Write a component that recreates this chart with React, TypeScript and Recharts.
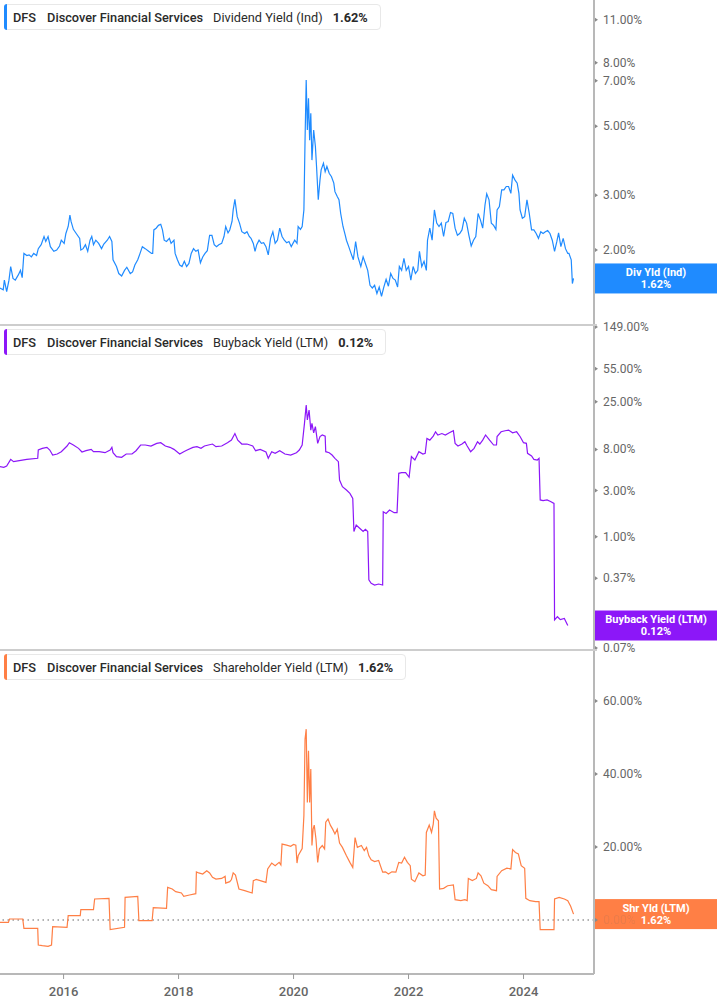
import React from "react";
import { LineChart, Line, XAxis, YAxis, ReferenceLine } from "recharts";

// [year, yield %]
const dividendYield: [number, number][] = [
  [2014.89, 1.51], [2014.95, 1.49], [2014.97, 1.6], [2015.01, 1.47], [2015.05, 1.6], [2015.08, 1.77],
  [2015.12, 1.62], [2015.16, 1.6], [2015.21, 1.66], [2015.25, 1.72], [2015.28, 1.63], [2015.31, 1.95],
  [2015.36, 1.92], [2015.4, 1.93], [2015.44, 1.9], [2015.48, 1.95], [2015.53, 1.92], [2015.56, 2.02],
  [2015.61, 2.08], [2015.66, 2.21], [2015.69, 2.13], [2015.73, 2.21], [2015.77, 2.05], [2015.83, 1.98],
  [2015.88, 2.0], [2015.93, 2.06], [2015.96, 2.15], [2016.01, 2.1], [2016.04, 2.26], [2016.08, 2.38],
  [2016.11, 2.59], [2016.13, 2.47], [2016.17, 2.33], [2016.22, 2.26], [2016.28, 2.18], [2016.3, 2.0],
  [2016.34, 2.02], [2016.38, 2.08], [2016.42, 1.98], [2016.46, 2.15], [2016.49, 2.21], [2016.52, 2.08],
  [2016.56, 2.15], [2016.61, 2.1], [2016.66, 2.02], [2016.7, 2.09], [2016.76, 2.15], [2016.8, 2.21],
  [2016.84, 2.13], [2016.86, 1.86], [2016.92, 1.77], [2016.96, 1.68], [2017.01, 1.65], [2017.06, 1.72],
  [2017.1, 1.76], [2017.16, 1.68], [2017.2, 1.7], [2017.24, 1.79], [2017.29, 1.86], [2017.33, 1.95],
  [2017.37, 2.05], [2017.42, 2.02], [2017.48, 1.98], [2017.53, 1.95], [2017.55, 1.95], [2017.57, 2.32],
  [2017.61, 2.35], [2017.65, 2.4], [2017.69, 2.42], [2017.72, 2.32], [2017.75, 2.15], [2017.79, 2.13],
  [2017.84, 2.18], [2017.87, 2.1], [2017.92, 2.15], [2017.94, 1.95], [2017.98, 1.86], [2018.02, 1.79],
  [2018.06, 1.77], [2018.1, 1.84], [2018.14, 1.77], [2018.18, 1.81], [2018.22, 1.95], [2018.26, 2.02],
  [2018.3, 1.98], [2018.34, 2.0], [2018.38, 1.82], [2018.42, 1.9], [2018.46, 1.95], [2018.5, 1.99],
  [2018.54, 2.23], [2018.58, 2.23], [2018.62, 2.08], [2018.66, 2.05], [2018.7, 2.08], [2018.75, 2.1],
  [2018.79, 2.21], [2018.82, 2.38], [2018.86, 2.27], [2018.89, 2.32], [2018.93, 2.47], [2018.95, 2.69],
  [2018.98, 2.91], [2019.02, 2.56], [2019.06, 2.44], [2019.1, 2.29], [2019.15, 2.26], [2019.19, 2.29],
  [2019.23, 2.21], [2019.26, 2.18], [2019.3, 2.1], [2019.33, 1.98], [2019.36, 2.08], [2019.4, 2.15],
  [2019.44, 2.1], [2019.48, 2.11], [2019.52, 2.05], [2019.56, 1.93], [2019.6, 2.18], [2019.64, 2.29],
  [2019.68, 2.1], [2019.72, 2.15], [2019.76, 2.35], [2019.8, 2.21], [2019.84, 2.15], [2019.88, 2.11],
  [2019.92, 2.13], [2019.96, 2.05], [2020.02, 2.15], [2020.06, 2.1], [2020.08, 2.38], [2020.12, 2.33],
  [2020.15, 2.38], [2020.18, 2.69], [2020.2, 4.51], [2020.22, 7.04], [2020.24, 4.86], [2020.26, 6.15],
  [2020.28, 4.51], [2020.3, 5.5], [2020.32, 3.89], [2020.35, 4.86], [2020.38, 4.3], [2020.4, 3.71],
  [2020.43, 2.9], [2020.46, 3.36], [2020.48, 3.62], [2020.52, 3.8], [2020.55, 3.57], [2020.58, 3.71],
  [2020.62, 3.53], [2020.66, 3.44], [2020.7, 3.28], [2020.72, 3.08], [2020.76, 2.97], [2020.79, 2.9],
  [2020.82, 2.62], [2020.86, 2.38], [2020.9, 2.23], [2020.92, 2.15], [2020.96, 2.05], [2021.0, 1.95],
  [2021.04, 1.86], [2021.08, 2.13], [2021.12, 1.9], [2021.17, 1.77], [2021.21, 1.9], [2021.25, 1.81],
  [2021.29, 1.72], [2021.33, 1.54], [2021.37, 1.51], [2021.41, 1.54], [2021.45, 1.45], [2021.49, 1.52],
  [2021.53, 1.42], [2021.57, 1.52], [2021.61, 1.61], [2021.65, 1.53], [2021.69, 1.68], [2021.73, 1.62],
  [2021.77, 1.6], [2021.81, 1.52], [2021.84, 1.77], [2021.88, 1.72], [2021.92, 1.88], [2021.96, 1.72],
  [2022.0, 1.77], [2022.04, 1.6], [2022.08, 1.77], [2022.12, 1.68], [2022.16, 1.72], [2022.19, 1.98],
  [2022.23, 1.77], [2022.27, 1.84], [2022.31, 1.72], [2022.33, 2.15], [2022.37, 2.35], [2022.41, 2.15],
  [2022.45, 2.69], [2022.49, 2.44], [2022.53, 2.38], [2022.57, 2.44], [2022.61, 2.21], [2022.65, 2.45],
  [2022.69, 2.47], [2022.73, 2.64], [2022.77, 2.62], [2022.81, 2.35], [2022.85, 2.23], [2022.89, 2.26],
  [2022.93, 2.32], [2022.97, 2.53], [2023.01, 2.44], [2023.05, 2.23], [2023.09, 2.06], [2023.13, 2.15],
  [2023.17, 2.21], [2023.21, 2.62], [2023.25, 2.5], [2023.29, 2.35], [2023.33, 2.79], [2023.36, 3.03],
  [2023.4, 2.9], [2023.44, 2.44], [2023.48, 2.4], [2023.52, 2.33], [2023.54, 2.69], [2023.58, 2.76],
  [2023.62, 3.12], [2023.66, 3.12], [2023.7, 3.2], [2023.74, 3.2], [2023.78, 3.04], [2023.81, 3.48],
  [2023.85, 3.36], [2023.89, 3.28], [2023.92, 3.04], [2023.94, 2.69], [2023.98, 2.53], [2024.02, 2.56],
  [2024.06, 2.9], [2024.1, 2.62], [2024.14, 2.32], [2024.18, 2.32], [2024.22, 2.26], [2024.26, 2.18],
  [2024.3, 2.29], [2024.34, 2.26], [2024.38, 2.29], [2024.42, 2.31], [2024.46, 2.26], [2024.5, 2.15],
  [2024.54, 1.98], [2024.58, 2.13], [2024.61, 2.27], [2024.65, 2.05], [2024.69, 2.18], [2024.73, 2.02],
  [2024.77, 1.95], [2024.79, 1.95], [2024.83, 1.86], [2024.85, 1.56], [2024.87, 1.62],
];

const buybackYield: [number, number][] = [
  [2014.89, 5.31], [2014.96, 5.22], [2015.01, 5.39], [2015.08, 6.32], [2015.13, 5.98], [2015.23, 6.12],
  [2015.36, 6.32], [2015.55, 6.48], [2015.56, 7.9], [2015.63, 8.22], [2015.71, 8.42], [2015.76, 7.9],
  [2015.81, 7.01], [2015.89, 7.18], [2015.96, 7.59], [2016.06, 8.69], [2016.1, 9.41], [2016.17, 8.9],
  [2016.26, 8.22], [2016.32, 7.53], [2016.39, 7.77], [2016.48, 8.02], [2016.52, 7.59], [2016.62, 7.59],
  [2016.72, 7.41], [2016.81, 7.9], [2016.84, 8.42], [2016.86, 7.41], [2016.92, 6.74], [2017.01, 6.63],
  [2017.09, 7.18], [2017.19, 7.18], [2017.26, 7.77], [2017.34, 8.9], [2017.42, 8.9], [2017.52, 8.69],
  [2017.62, 9.26], [2017.69, 9.41], [2017.77, 8.69], [2017.85, 8.42], [2017.92, 8.02], [2018.02, 7.18],
  [2018.09, 7.59], [2018.15, 7.9], [2018.25, 8.42], [2018.32, 8.55], [2018.39, 8.22], [2018.45, 8.69],
  [2018.52, 8.9], [2018.59, 9.11], [2018.65, 8.55], [2018.75, 8.69], [2018.85, 9.41], [2018.92, 10.0],
  [2018.98, 11.7], [2019.03, 10.0], [2019.1, 9.11], [2019.19, 9.11], [2019.29, 8.69], [2019.34, 7.77],
  [2019.42, 8.02], [2019.52, 7.53], [2019.56, 6.48], [2019.62, 7.59], [2019.68, 7.29], [2019.76, 7.77],
  [2019.85, 7.18], [2019.95, 7.01], [2020.05, 7.41], [2020.1, 7.9], [2020.15, 8.9], [2020.19, 14.9],
  [2020.22, 23.1], [2020.24, 16.2], [2020.27, 20.5], [2020.3, 12.7], [2020.32, 14.9], [2020.35, 11.9],
  [2020.38, 13.8], [2020.42, 9.26], [2020.46, 10.9], [2020.5, 11.3], [2020.55, 11.0], [2020.56, 7.59],
  [2020.62, 7.41], [2020.67, 7.01], [2020.72, 6.48], [2020.78, 5.98], [2020.8, 3.86], [2020.85, 3.29],
  [2020.92, 3.04], [2020.98, 2.81], [2021.03, 2.49], [2021.05, 1.13], [2021.09, 1.32], [2021.15, 1.22],
  [2021.21, 1.13], [2021.25, 1.19], [2021.29, 1.13], [2021.31, 0.356], [2021.35, 0.328], [2021.41, 0.315],
  [2021.48, 0.323], [2021.55, 0.315], [2021.56, 1.81], [2021.61, 1.74], [2021.67, 1.89], [2021.75, 1.77],
  [2021.8, 1.77], [2021.83, 4.53], [2021.88, 4.6], [2021.95, 4.6], [2022.01, 4.12], [2022.05, 6.74],
  [2022.11, 6.22], [2022.18, 7.59], [2022.25, 7.18], [2022.29, 7.29], [2022.32, 10.4], [2022.37, 10.0],
  [2022.43, 11.0], [2022.47, 12.2], [2022.51, 11.3], [2022.58, 11.7], [2022.64, 11.3], [2022.71, 11.9],
  [2022.78, 12.5], [2022.81, 9.26], [2022.86, 8.69], [2022.93, 9.11], [2022.98, 9.63], [2023.02, 8.69],
  [2023.08, 7.59], [2023.14, 8.22], [2023.2, 9.63], [2023.24, 9.11], [2023.29, 10.0], [2023.34, 11.3],
  [2023.41, 10.0], [2023.48, 8.9], [2023.53, 8.9], [2023.54, 10.9], [2023.61, 12.2], [2023.68, 12.5],
  [2023.74, 12.7], [2023.81, 11.9], [2023.88, 12.2], [2023.94, 10.9], [2024.0, 9.41], [2024.05, 9.26],
  [2024.07, 7.29], [2024.14, 6.85], [2024.18, 6.32], [2024.24, 6.22], [2024.27, 6.48], [2024.29, 2.4],
  [2024.34, 2.36], [2024.41, 2.4], [2024.47, 2.31], [2024.53, 2.21], [2024.54, 0.137], [2024.59, 0.148],
  [2024.64, 0.138], [2024.71, 0.142], [2024.77, 0.12],
];

const shareholderYield: [number, number][] = [
  [2014.89, -0.64], [2015.04, -0.64], [2015.06, 0.27], [2015.29, 0.27], [2015.31, -2.28], [2015.55, -2.28],
  [2015.56, -6.85], [2015.63, -7.03], [2015.73, -7.21], [2015.79, -6.85], [2015.81, -1.82], [2016.06, -2.01],
  [2016.08, 1.19], [2016.29, 1.19], [2016.3, 2.83], [2016.52, 2.83], [2016.54, 5.75], [2016.79, 5.94],
  [2016.81, -2.65], [2017.06, -2.01], [2017.07, 6.21], [2017.29, 6.49], [2017.31, -0.18], [2017.54, -0.18],
  [2017.56, 3.38], [2017.79, 3.2], [2017.81, 8.95], [2017.89, 8.5], [2017.95, 7.76], [2018.05, 7.4],
  [2018.09, 6.49], [2018.19, 6.85], [2018.3, 7.22], [2018.31, 13.2], [2018.35, 12.9], [2018.42, 12.6],
  [2018.49, 13.5], [2018.54, 12.9], [2018.59, 11.7], [2018.65, 11.2], [2018.75, 11.4], [2018.81, 12.0],
  [2018.82, 10.1], [2018.89, 10.5], [2018.92, 11.1], [2018.95, 12.9], [2018.99, 12.3], [2019.05, 8.5],
  [2019.15, 8.04], [2019.28, 7.4], [2019.3, 10.8], [2019.35, 11.1], [2019.42, 10.8], [2019.52, 10.3],
  [2019.55, 14.0], [2019.62, 15.6], [2019.68, 14.9], [2019.75, 15.8], [2019.78, 15.1], [2019.8, 20.8],
  [2019.88, 20.5], [2019.95, 20.2], [2020.0, 20.7], [2020.04, 20.5], [2020.06, 15.6], [2020.08, 17.6],
  [2020.15, 19.6], [2020.18, 28.6], [2020.2, 49.6], [2020.22, 52.3], [2020.24, 32.2], [2020.26, 46.4],
  [2020.28, 32.2], [2020.3, 41.4], [2020.32, 20.4], [2020.34, 24.9], [2020.36, 26.0], [2020.39, 22.2],
  [2020.42, 15.8], [2020.45, 19.5], [2020.5, 20.4], [2020.54, 19.5], [2020.56, 26.8], [2020.6, 27.7],
  [2020.64, 26.0], [2020.68, 24.9], [2020.72, 23.6], [2020.76, 24.9], [2020.8, 21.1], [2020.85, 19.9],
  [2020.92, 17.6], [2020.98, 15.8], [2021.03, 14.4], [2021.07, 22.6], [2021.11, 19.9], [2021.18, 20.4],
  [2021.23, 19.0], [2021.27, 19.9], [2021.31, 17.6], [2021.35, 16.5], [2021.41, 16.0], [2021.48, 16.3],
  [2021.55, 13.1], [2021.6, 13.2], [2021.65, 12.6], [2021.71, 13.2], [2021.78, 13.1], [2021.83, 15.8],
  [2021.88, 15.6], [2021.93, 17.2], [2021.98, 15.8], [2022.03, 14.9], [2022.05, 11.2], [2022.11, 10.5],
  [2022.18, 12.9], [2022.25, 12.1], [2022.29, 12.3], [2022.31, 24.0], [2022.36, 26.0], [2022.4, 24.0],
  [2022.43, 26.3], [2022.45, 29.9], [2022.48, 27.9], [2022.52, 27.2], [2022.54, 8.5], [2022.61, 8.68],
  [2022.68, 9.4], [2022.78, 9.6], [2022.81, 5.57], [2022.91, 5.3], [2022.98, 5.57], [2023.02, 5.3],
  [2023.04, 11.4], [2023.11, 10.8], [2023.18, 11.4], [2023.21, 12.9], [2023.26, 12.1], [2023.31, 10.1],
  [2023.38, 9.4], [2023.44, 8.31], [2023.53, 8.04], [2023.54, 11.95], [2023.62, 13.5], [2023.71, 14.2],
  [2023.78, 14.0], [2023.81, 19.3], [2023.86, 18.5], [2023.91, 18.1], [2023.96, 14.9], [2024.02, 14.2],
  [2024.04, 5.94], [2024.11, 5.3], [2024.21, 5.02], [2024.27, 5.02], [2024.29, -2.65], [2024.41, -2.65],
  [2024.53, -2.65], [2024.54, 5.75], [2024.62, 6.21], [2024.71, 5.75], [2024.77, 5.3], [2024.82, 3.75],
  [2024.87, 1.62],
];

const yearTicks = [2016, 2018, 2020, 2022, 2024];
const divTicks = [2, 3, 5, 7, 8, 11];
const buybackTicks = [0.07, 0.37, 1, 3, 8, 25, 55, 149];
const shrTicks = [0, 20, 40, 60];

const W = 717;
const AXIS_W = 123;
const FONT = "Roboto, 'Liberation Sans', Arial, sans-serif";
const X_DOMAIN = [2014.894, 2025.226];

const BLUE = "#1f8bff";
const PURPLE = "#8c17f8";
const ORANGE = "#ff7f45";

const toRows = (pairs: [number, number][]) => pairs.map(([t, v]) => ({ t, v }));
const pct = (v: number) => `${v.toFixed(2)}%`;
const last = (pairs: [number, number][]) => pairs[pairs.length - 1][1];

// tick labels sitting under the value tag are drawn faded, like in the original
const YTick = (props: any) => {
  const { x, y, payload, dim } = props;
  const faded = dim && dim.includes(payload.value);
  return (
    <g>
      <path d={`M${x + 1} ${y - 2} L${x + 4} ${y} L${x + 1} ${y + 2} Z`} fill="#8a8a8a" />
      <text x={x + 9} y={y} dy={4} fontSize={12} fill="#666" fillOpacity={faded ? 0.15 : 1} fontFamily={FONT}>
        {pct(payload.value)}
      </text>
    </g>
  );
};

const ValueTag = (props: any) => {
  const { viewBox, color, title, value } = props;
  const x = viewBox.x + viewBox.width;
  const y = viewBox.y;
  return (
    <g>
      <rect x={x} y={y - 15} width={AXIS_W} height={30} fill={color} />
      <text x={x + 62} y={y - 2.5} textAnchor="middle" fill="#fff" fontSize={11} fontWeight={700} fontFamily={FONT}>
        {title}
      </text>
      <text x={x + 62} y={y + 9.5} textAnchor="middle" fill="#fff" fontSize={11} fontWeight={700} fontFamily={FONT}>
        {value}
      </text>
    </g>
  );
};

const Legend = ({ top, color, label, value }: any) => (
  <div
    style={{
      position: "absolute", left: 4, top: top + 4, height: 26, boxSizing: "border-box",
      display: "flex", alignItems: "center", whiteSpace: "nowrap",
      border: "1px solid #e8e8e8", borderRadius: 4, background: "#fff",
      paddingLeft: 8, paddingRight: 12, fontFamily: FONT, fontSize: 12.75, color: "#2a2a2a",
    }}
  >
    <div style={{ position: "absolute", left: -1, top: -1, bottom: -1, width: 3, background: color, borderRadius: "3px 0 0 3px" }} />
    <span style={{ fontWeight: 500 }}>DFS</span>
    <span style={{ fontWeight: 500, marginLeft: 11 }}>Discover Financial Services</span>
    <span style={{ marginLeft: 10 }}>{label}</span>
    <span style={{ fontWeight: 700, marginLeft: 10 }}>{value}</span>
  </div>
);

const yAxisProps = {
  yAxisId: "r",
  orientation: "right" as const,
  width: AXIS_W,
  allowDataOverflow: true,
  interval: 0 as const,
  tickLine: false,
  tickSize: 0,
  tickMargin: 0,
  axisLine: { stroke: "#b8b8b8", strokeWidth: 2 },
};

export default function App() {
  const divRows = toRows(dividendYield);
  const bbRows = toRows(buybackYield);
  const shrRows = toRows(shareholderYield);
  const margin = { top: 0, right: 0, bottom: 0, left: 0 };

  return (
    <div style={{ position: "absolute", left: 0, top: 0, width: W, height: 1005, background: "#fff" }}>
      <style>{".recharts-surface{overflow:visible}"}</style>
      <div style={{ position: "absolute", left: 0, top: 0 }}>
        <LineChart width={W} height={325} data={divRows} margin={margin}>
          <XAxis dataKey="t" type="number" domain={X_DOMAIN} allowDataOverflow hide />
          <YAxis {...yAxisProps} tick={<YTick />} scale="log" domain={[1.148, 12.72]} ticks={divTicks} />
          <Line yAxisId="r" dataKey="v" stroke={BLUE} strokeWidth={1.2} dot={false} isAnimationActive={false} />
          <ReferenceLine yAxisId="r" y={last(dividendYield)} stroke="none"
            label={<ValueTag color={BLUE} title="Div Yld (Ind)" value={pct(last(dividendYield))} />} />
        </LineChart>
      </div>
      <div style={{ position: "absolute", left: 0, top: 325 }}>
        <LineChart width={W} height={325} data={bbRows} margin={margin}>
          <XAxis dataKey="t" type="number" domain={X_DOMAIN} allowDataOverflow hide />
          <YAxis {...yAxisProps} tick={<YTick />} scale="log" domain={[0.0669, 155.9]} ticks={buybackTicks} />
          <Line yAxisId="r" dataKey="v" stroke={PURPLE} strokeWidth={1.2} dot={false} isAnimationActive={false} />
          <ReferenceLine yAxisId="r" y={last(buybackYield)} stroke="none"
            label={<ValueTag color={PURPLE} title="Buyback Yield (LTM)" value={pct(last(buybackYield))} />} />
        </LineChart>
      </div>
      <div style={{ position: "absolute", left: 0, top: 650 }}>
        <LineChart width={W} height={355} data={shrRows} margin={margin}>
          <XAxis
            dataKey="t" type="number" domain={X_DOMAIN} allowDataOverflow ticks={yearTicks} height={31}
            tickFormatter={(v) => String(v)} tickSize={5} tickMargin={8}
            tickLine={{ stroke: "#999" }} axisLine={{ stroke: "#b8b8b8", strokeWidth: 2 }}
            tick={{ fontSize: 13, fill: "#666", fontFamily: FONT, fontWeight: 500 }}
          />
          <YAxis {...yAxisProps} tick={<YTick dim={[0]} />} domain={[-14.8, 74.0]} ticks={shrTicks} />
          <ReferenceLine yAxisId="r" y={0} stroke="#666" strokeWidth={1.2} strokeDasharray="1.5 3.5" />
          <Line yAxisId="r" dataKey="v" stroke={ORANGE} strokeWidth={1.2} dot={false} isAnimationActive={false} />
          <ReferenceLine yAxisId="r" y={last(shareholderYield)} stroke="none"
            label={<ValueTag color={ORANGE} title="Shr Yld (LTM)" value={pct(last(shareholderYield))} />} />
        </LineChart>
      </div>
      <div style={{ position: "absolute", left: 0, top: 324, width: 597, height: 1.5, background: "#cdcdcd" }} />
      <div style={{ position: "absolute", left: 0, top: 649, width: 597, height: 1.5, background: "#cdcdcd" }} />
      <Legend top={0} color={BLUE} label="Dividend Yield (Ind)" value={pct(last(dividendYield))} />
      <Legend top={325} color={PURPLE} label="Buyback Yield (LTM)" value={pct(last(buybackYield))} />
      <Legend top={650} color={ORANGE} label="Shareholder Yield (LTM)" value={pct(last(shareholderYield))} />
    </div>
  );
}
